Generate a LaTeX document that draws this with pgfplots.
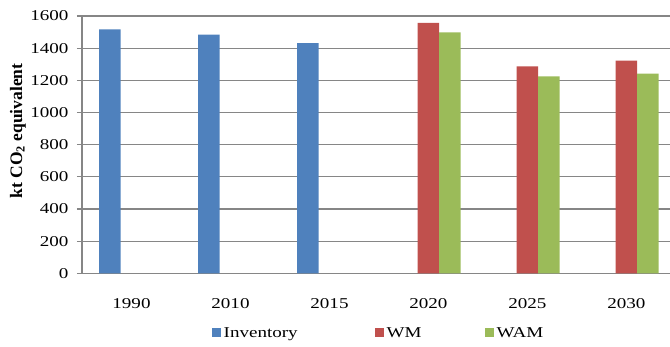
\documentclass[border=0pt]{standalone}
\usepackage{fontspec}
\setmainfont[FakeStretch=1.27]{Liberation Serif}
\newfontfamily\ylabfont{Liberation Serif}
\usepackage{pgfplots}
\pgfplotsset{compat=1.18}
\definecolor{cInv}{RGB}{79,129,189}
\definecolor{cWM}{RGB}{192,80,77}
\definecolor{cWAM}{RGB}{155,187,89}
\definecolor{gridc}{RGB}{134,134,134}
\begin{document}
\begin{tikzpicture}[font=\fontsize{15pt}{18pt}\selectfont]
\useasboundingbox (0,0) rectangle (670pt,347pt);
\begin{axis}[
 at={(82pt,73.7pt)}, anchor=south west,
 scale only axis, width=588pt, height=257.3pt,
 xmin=-0.5, xmax=5.44, ymin=0, ymax=1600,
 ytick={0,200,...,1600},
 xtick={0,...,5}, xticklabels={1990,2010,2015,2020,2025,2030},
 ybar=0pt, bar width=21.5pt,
 ymajorgrids, grid style={gridc, line width=1.1pt},
 axis x line*=bottom, axis y line*=left,
 axis line style={gridc, line width=1.1pt, -},
 x tick style={draw=none},
 y tick style={gridc, line width=1.1pt},
 tick align=outside, major tick length=5pt,
 /pgf/number format/assume math mode=true,
 /pgf/number format/set thousands separator={},
 yticklabel style={xshift=-5pt},
 xticklabel style={yshift=-17pt},
 ylabel={\ylabfont\bfseries\fontsize{17.5pt}{20pt}\selectfont kt CO\textsubscript{2} equivalent},
 ylabel style={at={(axis description cs:-0.109,0.553)}, anchor=center},
 legend columns=3,
 legend style={at={(axis description cs:0.505,-0.232)}, anchor=center, draw=none,
   nodes={inner xsep=2.5pt, inner ysep=1pt},
   /tikz/column 2/.style={column sep=75pt},
   /tikz/column 4/.style={column sep=61pt}},
]
\addplot[fill=cInv, draw=none, legend image code/.code={\fill[cInv] (0pt,-4.5pt) rectangle (9pt,4.5pt);}] coordinates {(0,1517) (1,1484) (2,1432)};
\addplot[fill=cWM, draw=none, legend image code/.code={\fill[cWM] (0pt,-4.5pt) rectangle (9pt,4.5pt);}] coordinates {(3,1557) (4,1286) (5,1322)};
\addplot[fill=cWAM, draw=none, legend image code/.code={\fill[cWAM] (0pt,-4.5pt) rectangle (9pt,4.5pt);}] coordinates {(3,1498) (4,1224) (5,1241)};
\legend{Inventory,WM,WAM}
\end{axis}
\end{tikzpicture}
\end{document}
